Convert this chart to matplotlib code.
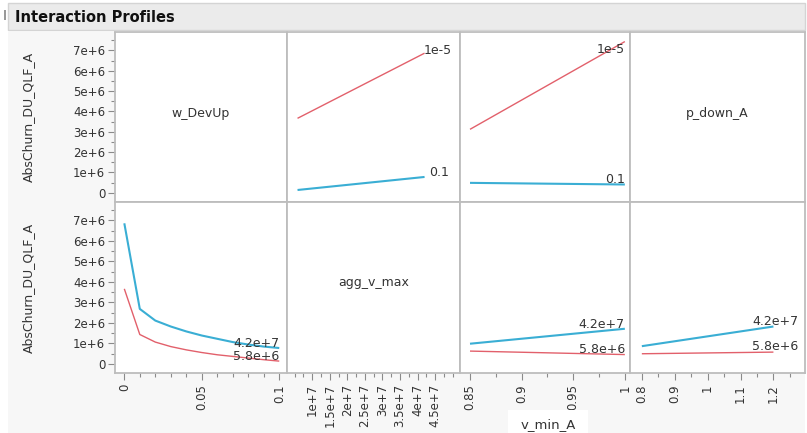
import numpy as np
import matplotlib.pyplot as plt
from matplotlib.patches import Rectangle

W, H = 807, 433

# response axis
y_ticks = [0, 1e6, 2e6, 3e6, 4e6, 5e6, 6e6, 7e6]
y_labels = ["0", "1e+6", "2e+6", "3e+6", "4e+6", "5e+6", "6e+6", "7e+6"]

# w_DevUp profile, traces for agg_v_max = 4.2e7 (blue) and 5.8e6 (red)
w_devup = [0.00001, 0.01, 0.02, 0.03, 0.04, 0.05, 0.06, 0.07, 0.08, 0.09, 0.1]
w_agg_hi = [6.86e6, 2.68e6, 2.11e6, 1.82e6, 1.58e6, 1.38e6, 1.22e6, 1.06e6, 0.94e6, 0.84e6, 0.77e6]
w_agg_lo = [3.66e6, 1.43e6, 1.06e6, 0.84e6, 0.68e6, 0.55e6, 0.44e6, 0.36e6, 0.28e6, 0.20e6, 0.13e6]

# agg_v_max profile, traces for w_DevUp = 1e-5 (red) and 0.1 (blue)
agg_v_max = [5.8e6, 4.2e7]
agg_w_lo = [3.66e6, 6.86e6]
agg_w_hi = [0.14e6, 0.78e6]

# v_min_A profile
v_min = [0.85, 1.0]
vmin_w_lo = [3.12e6, 7.43e6]
vmin_w_hi = [0.49e6, 0.41e6]
vmin_agg_hi = [0.98e6, 1.71e6]
vmin_agg_lo = [0.62e6, 0.45e6]

# p_down_A profile
p_down = [0.8, 1.2]
pdown_agg_hi = [0.86e6, 1.82e6]
pdown_agg_lo = [0.49e6, 0.57e6]

RED = "#e2606b"
BLUE = "#3aaed4"
FRAME = "#bdbdbd"
TXT = "#333333"


def rect(x0, y0, x1, y1):
    # pixel box (top-left origin) -> figure fraction
    return [x0 / W, 1 - y1 / H, (x1 - x0) / W, (y1 - y0) / H]


fig = plt.figure(figsize=(W / 100, H / 100), dpi=100)
fig.patch.set_facecolor("white")

# backgrounds like the JMP report
fig.add_artist(Rectangle((8 / W, 0), (805 - 8) / W, 1 - 32 / H, transform=fig.transFigure,
                         facecolor="#f7f7f7", edgecolor="none", zorder=0))
fig.add_artist(Rectangle((8 / W, 1 - 30 / H), (805 - 8) / W, 27 / H, transform=fig.transFigure,
                         facecolor="#ebebeb", edgecolor="#d4d4d4", linewidth=1, zorder=1))
fig.add_artist(Rectangle((4 / W, 1 - 20 / H), 2 / W, 10 / H, transform=fig.transFigure,
                         facecolor="#999999", edgecolor="none", zorder=1))
fig.text(15 / W, 1 - 17 / H, "Interaction Profiles", fontsize=10.5, fontweight="bold",
         color="#111111", va="center", ha="left")
fig.add_artist(Rectangle((508 / W, 0), 80 / W, 23 / H, transform=fig.transFigure,
                         facecolor="white", edgecolor="none", zorder=1))
fig.text(548 / W, 1 - 425 / H, "v_min_A", fontsize=9.5, color=TXT, ha="center", va="center")

xcols = [115, 287, 460, 630, 805]
yrows = [32, 202, 373]
xlims = [(-0.006, 0.105), (0.28e7, 5.21e7), (0.8403, 1.005), (0.764, 1.296)]
xticks = [[0, 0.05, 0.1],
          [1e7, 1.5e7, 2e7, 2.5e7, 3e7, 3.5e7, 4e7, 4.5e7],
          [0.85, 0.9, 0.95, 1.0],
          [0.8, 0.9, 1.0, 1.1, 1.2]]
xlabels = [["0", "0.05", "0.1"],
           ["1e+7", "1.5e+7", "2e+7", "2.5e+7", "3e+7", "3.5e+7", "4e+7", "4.5e+7"],
           ["0.85", "0.9", "0.95", "1"],
           ["0.8", "0.9", "1", "1.1", "1.2"]]
xminor = [np.arange(0, 0.1001, 0.01), np.arange(0.5e7, 5.01e7, 0.25e7),
          np.arange(0.85, 1.001, 0.025), np.arange(0.8, 1.26, 0.05)]

axes = [[None] * 4 for _ in range(2)]
for r in range(2):
    for c in range(4):
        ax = fig.add_axes(rect(xcols[c], yrows[r], xcols[c + 1], yrows[r + 1]))
        ax.set_facecolor("white")
        ax.set_xlim(*xlims[c])
        ax.set_ylim(-0.45e6, 7.9e6)
        for s in ax.spines.values():
            s.set_color(FRAME)
            s.set_linewidth(1.3)
        ax.tick_params(which="both", color="#8a8a8a", labelcolor=TXT, labelsize=8.5, width=0.8)
        ax.tick_params(which="major", length=5)
        ax.tick_params(which="minor", length=3)
        if c == 0:
            ax.set_yticks(y_ticks)
            ax.set_yticklabels(y_labels)
            ax.set_yticks(np.arange(0.5e6, 7.6e6, 1e6), minor=True)
            ax.tick_params(axis="y", pad=2)
        else:
            ax.set_yticks([])
        if r == 1:
            ax.set_xticks(xticks[c])
            ax.set_xticklabels(xlabels[c], rotation=90)
            ax.set_xticks(xminor[c], minor=True)
            ax.tick_params(axis="x", pad=3)
        else:
            ax.set_xticks([])
        axes[r][c] = ax
    fig.text(28 / W, 1 - (yrows[r] + yrows[r + 1]) / 2 / H, "AbsChurn_DU_QLF_A", rotation=90,
             fontsize=9, color=TXT, ha="center", va="center")


def trace(ax, x, y, color, lw, label, dx, dy):
    ax.plot(x, y, color=color, linewidth=lw, solid_capstyle="butt")
    ax.annotate(label, xy=(x[-1], y[-1]), xytext=(dx, dy), textcoords="offset pixels",
                ha="right", va="center", fontsize=9, color=TXT)


# top row: w_DevUp traces
axes[0][0].text(0.5, 0.52, "w_DevUp", transform=axes[0][0].transAxes, ha="center", va="center",
                fontsize=9, color=TXT)
trace(axes[0][1], agg_v_max, agg_w_lo, RED, 1.0, "1e-5", 27, 3)
trace(axes[0][1], agg_v_max, agg_w_hi, BLUE, 1.5, "0.1", 24, 4)
trace(axes[0][2], v_min, vmin_w_lo, RED, 1.0, "1e-5", 0, -8)
trace(axes[0][2], v_min, vmin_w_hi, BLUE, 1.5, "0.1", 0, 5)
axes[0][3].text(0.5, 0.52, "p_down_A", transform=axes[0][3].transAxes, ha="center", va="center",
                fontsize=9, color=TXT)

# bottom row: agg_v_max traces
trace(axes[1][0], w_devup, w_agg_hi, BLUE, 1.5, "4.2e+7", 0, 5)
trace(axes[1][0], w_devup, w_agg_lo, RED, 1.0, "5.8e+6", 0, 5)
axes[1][1].text(0.5, 0.53, "agg_v_max", transform=axes[1][1].transAxes, ha="center", va="center",
                fontsize=9, color=TXT)
trace(axes[1][2], v_min, vmin_agg_hi, BLUE, 1.5, "4.2e+7", 0, 4)
trace(axes[1][2], v_min, vmin_agg_lo, RED, 1.0, "5.8e+6", 0, 5)
trace(axes[1][3], p_down, pdown_agg_hi, BLUE, 1.5, "4.2e+7", 25, 5)
trace(axes[1][3], p_down, pdown_agg_lo, RED, 1.0, "5.8e+6", 25, 6)

fig.savefig("out.png", dpi=100)
